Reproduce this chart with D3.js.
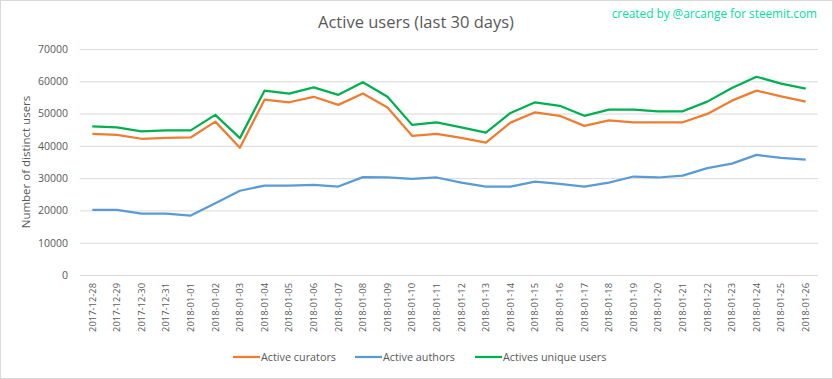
<!DOCTYPE html>
<html>
<head>
<meta charset="utf-8">
<script src="https://cdn.jsdelivr.net/npm/d3@7"></script>
<style>
  body { margin: 0; background: #fff; }
  text { font-family: "Open Sans", sans-serif; }
</style>
</head>
<body>
<div id="vis"></div>
<script>
// data
const dates = ['2017-12-28', '2017-12-29', '2017-12-30', '2017-12-31', '2018-01-01',
  '2018-01-02', '2018-01-03', '2018-01-04', '2018-01-05', '2018-01-06', '2018-01-07',
  '2018-01-08', '2018-01-09', '2018-01-10', '2018-01-11', '2018-01-12', '2018-01-13',
  '2018-01-14', '2018-01-15', '2018-01-16', '2018-01-17', '2018-01-18', '2018-01-19',
  '2018-01-20', '2018-01-21', '2018-01-22', '2018-01-23', '2018-01-24', '2018-01-25',
  '2018-01-26']
const curators = [43700, 43400, 42200, 42500, 42600, 47500, 39400, 54300, 53500, 55200,
  52700, 56200, 51900, 43100, 43700, 42500, 41000, 47200, 50400, 49300,
  46200, 47900, 47300, 47300, 47300, 49900, 54000, 57100, 55300, 53700]
const authors = [20200, 20200, 19000, 19000, 18400, 22200, 26100, 27700, 27700, 27900,
  27400, 30300, 30200, 29800, 30200, 28600, 27400, 27400, 28900, 28200,
  27400, 28600, 30500, 30200, 30800, 33100, 34500, 37200, 36300, 35700]
const uniques = [46000, 45700, 44500, 44800, 44800, 49600, 42400, 57100, 56200, 58100,
  55800, 59700, 55200, 46500, 47300, 45700, 44100, 50200, 53500, 52400,
  49300, 51200, 51200, 50700, 50700, 53700, 57900, 61400, 59300, 57700]
const yTicks = [0, 10000, 20000, 30000, 40000, 50000, 60000, 70000]

const series = [
  { name: 'Active curators', values: curators, color: '#ED7D31' },
  { name: 'Active authors', values: authors, color: '#5B9BD5' },
  { name: 'Actives unique users', values: uniques, color: '#00B050' }
]

const W = 833, H = 379
const margin = { top: 49, right: 15, bottom: 104, left: 80 }
const width = W - margin.left - margin.right
const height = H - margin.top - margin.bottom

const root = d3.select('#vis').append('svg')
  .attr('width', W).attr('height', H)

// outer frame
root.append('rect')
  .attr('x', 0.5).attr('y', 0.5).attr('width', W - 1).attr('height', H - 1)
  .attr('fill', '#fff').attr('stroke', '#d9d9d9')

root.append('text')
  .attr('x', 416).attr('y', 28)
  .attr('text-anchor', 'middle')
  .attr('font-size', 16.5).attr('fill', '#595959')
  .text('Active users (last 30 days)')

root.append('text')
  .attr('x', 817).attr('y', 18)
  .attr('text-anchor', 'end')
  .attr('font-size', 11.8).attr('fill', '#00E0A0')
  .text('created by @arcange for steemit.com')

const svg = root.append('g')
  .attr('transform', `translate(${margin.left},${margin.top})`)

const xScale = d3.scaleBand().domain(dates).range([0, width])
const yScale = d3.scaleLinear().domain([0, 70000]).range([height, 0])

// gridlines + y labels
const yAxis = d3.axisLeft(yScale).tickValues(yTicks).tickFormat(d3.format('d'))
  .tickSize(-width).tickPadding(12)
svg.append('g').call(yAxis)
  .call(g => g.select('.domain').remove())
  .call(g => g.selectAll('.tick line').attr('stroke', '#d9d9d9'))
  .call(g => g.selectAll('.tick text').attr('fill', '#595959')
    .attr('font-size', 10.5)
    .style('font-family', '"Open Sans", sans-serif'))

// x labels rotated
const xAxis = d3.axisBottom(xScale).tickSize(0).tickPadding(0)
svg.append('g').attr('transform', `translate(0,${height})`).call(xAxis)
  .call(g => g.select('.domain').remove())
  .call(g => g.selectAll('.tick text')
    .attr('transform', 'rotate(-90)')
    .attr('text-anchor', 'end')
    .attr('x', -8).attr('y', 0).attr('dy', '0.35em')
    .attr('fill', '#595959').attr('font-size', 9.4)
    .style('font-family', '"Open Sans", sans-serif'))

svg.append('text')
  .attr('transform', 'rotate(-90)')
  .attr('x', -height / 2).attr('y', -50)
  .attr('text-anchor', 'middle')
  .attr('font-size', 11.5).attr('fill', '#595959')
  .text('Number of distinct users')

const line = d3.line()
  .x((d, i) => xScale(dates[i]) + xScale.bandwidth() / 2)
  .y(d => yScale(d))

svg.selectAll('.series')
  .data(series)
  .join('path')
  .attr('class', 'series')
  .attr('fill', 'none')
  .attr('stroke', d => d.color)
  .attr('stroke-width', 2.25)
  .attr('stroke-linejoin', 'round')
  .attr('d', d => line(d.values))

// legend
const legendX = [233, 355, 475]
const legend = root.selectAll('.legend')
  .data(series)
  .join('g')
  .attr('class', 'legend')
  .attr('transform', (d, i) => `translate(${legendX[i]},357)`)
legend.append('line')
  .attr('x1', 0).attr('x2', 27)
  .attr('stroke', d => d.color).attr('stroke-width', 2.25)
legend.append('text')
  .attr('x', 28).attr('dy', '0.35em')
  .attr('font-size', 10.8).attr('fill', '#595959')
  .text(d => d.name)
</script>
</body>
</html>
